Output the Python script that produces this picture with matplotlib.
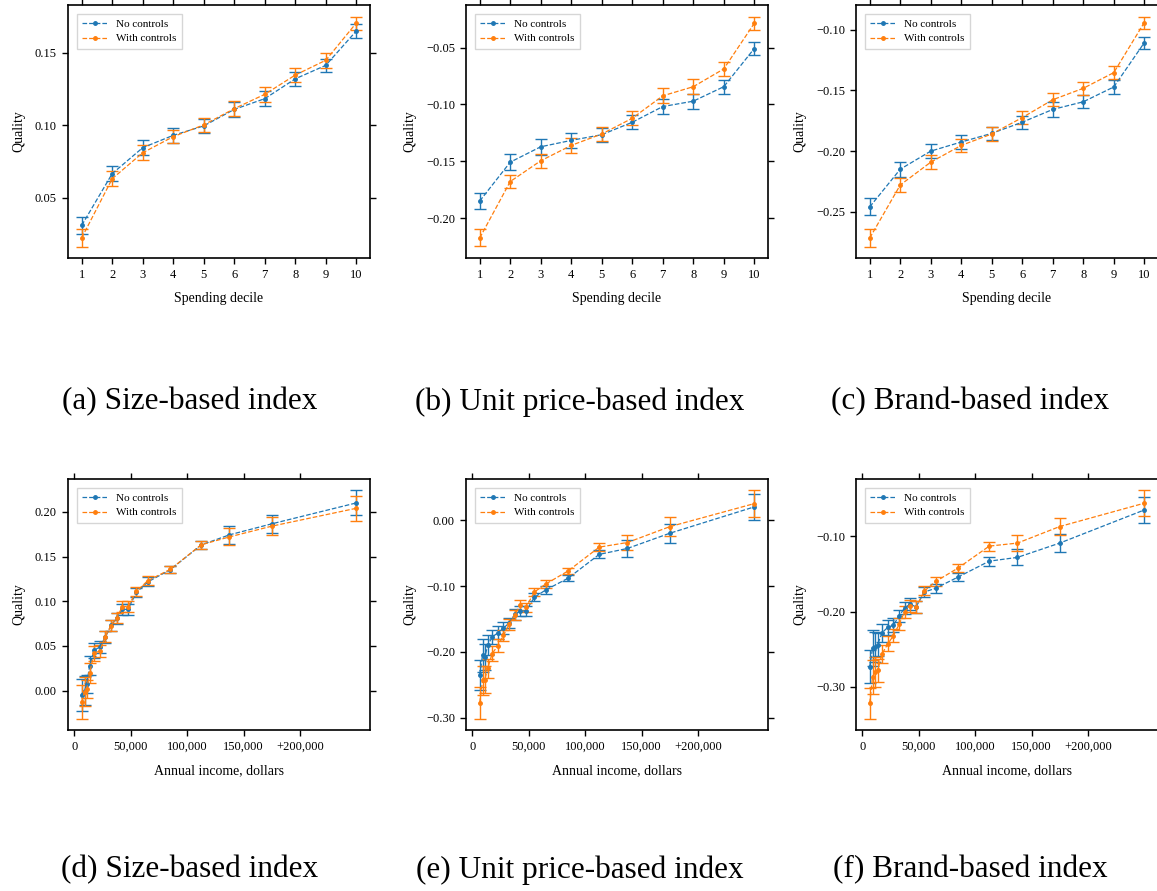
import matplotlib
matplotlib.use("Agg")
import matplotlib.pyplot as plt
from matplotlib.lines import Line2D
from matplotlib.ticker import FuncFormatter

### Data ###

deciles = [1, 2, 3, 4, 5, 6, 7, 8, 9, 10]
income = [6500, 9000, 11000, 13500, 17500, 22500, 27500, 32500, 37500, 42500,
          47500, 55000, 65000, 85000, 112500, 137500, 175000, 250000]

# (a) size-based, by decile
a_no = [0.0309, 0.0666, 0.0845, 0.0930, 0.0995, 0.1109, 0.1183, 0.1320, 0.1413, 0.1650]
a_no_err = [0.006, 0.005, 0.005, 0.005, 0.005, 0.005, 0.005, 0.005, 0.0046, 0.0045]
a_with = [0.0223, 0.0631, 0.0810, 0.0921, 0.1002, 0.1114, 0.1213, 0.1346, 0.1448, 0.1705]
a_with_err = [0.006, 0.005, 0.005, 0.0045, 0.005, 0.005, 0.005, 0.005, 0.005, 0.0045]

# (b) unit price-based, by decile
b_no = [-0.1847, -0.1506, -0.1371, -0.1315, -0.1265, -0.1156, -0.1018, -0.0971, -0.0844, -0.0509]
b_no_err = [0.0074, 0.0068, 0.0068, 0.0065, 0.006, 0.006, 0.0065, 0.0065, 0.006, 0.006]
b_with = [-0.2171, -0.1676, -0.1494, -0.1359, -0.1259, -0.1121, -0.0924, -0.0844, -0.0688, -0.0288]
b_with_err = [0.0075, 0.006, 0.006, 0.0065, 0.0065, 0.006, 0.0065, 0.0065, 0.006, 0.006]

# (c) brand-based, by decile
c_no = [-0.2459, -0.2149, -0.2000, -0.1925, -0.1854, -0.1762, -0.1657, -0.1594, -0.1472, -0.1108]
c_no_err = [0.007, 0.006, 0.006, 0.0055, 0.0055, 0.0055, 0.006, 0.0055, 0.0055, 0.005]
c_with = [-0.2715, -0.2279, -0.2091, -0.1953, -0.1859, -0.1724, -0.1577, -0.1483, -0.1354, -0.0942]
c_with_err = [0.007, 0.006, 0.0055, 0.0055, 0.0055, 0.0055, 0.0055, 0.0055, 0.0055, 0.005]

# (d) size-based, by income
d_no = [-0.0045, 0.0000, 0.0078, 0.0280, 0.0450, 0.0490, 0.0600, 0.0730, 0.0810, 0.0910,
        0.0910, 0.1100, 0.1216, 0.1353, 0.1630, 0.1743, 0.1866, 0.2100]
d_no_err = [0.018, 0.016, 0.010, 0.0105, 0.008, 0.007, 0.0065, 0.006, 0.006, 0.006,
            0.006, 0.005, 0.005, 0.004, 0.0045, 0.0097, 0.0104, 0.014]
d_with = [-0.0126, -0.0010, 0.0022, 0.0197, 0.0416, 0.0446, 0.0606, 0.0729, 0.0814, 0.0940,
          0.0940, 0.1110, 0.1230, 0.1357, 0.1632, 0.1720, 0.1840, 0.2040]
d_with_err = [0.0186, 0.016, 0.010, 0.011, 0.008, 0.007, 0.0065, 0.006, 0.006, 0.006,
              0.006, 0.005, 0.005, 0.004, 0.0045, 0.0095, 0.010, 0.014]

# (e) unit price-based, by income
e_no = [-0.2345, -0.2047, -0.2080, -0.1900, -0.1775, -0.1710, -0.1640, -0.1560, -0.1430, -0.1380,
        -0.1380, -0.1170, -0.1060, -0.0880, -0.0520, -0.0430, -0.0200, 0.0200]
e_no_err = [0.023, 0.025, 0.020, 0.015, 0.011, 0.010, 0.009, 0.008, 0.008, 0.008,
            0.007, 0.006, 0.006, 0.005, 0.006, 0.0126, 0.014, 0.020]
e_with = [-0.2770, -0.2430, -0.2420, -0.2250, -0.2025, -0.1905, -0.1750, -0.1580, -0.1440, -0.1290,
          -0.1320, -0.1090, -0.0970, -0.0770, -0.0410, -0.0340, -0.0100, 0.0250]
e_with_err = [0.024, 0.022, 0.020, 0.015, 0.011, 0.010, 0.009, 0.008, 0.008, 0.008,
              0.007, 0.006, 0.006, 0.005, 0.006, 0.012, 0.014, 0.020]

# (f) brand-based, by income
f_no = [-0.2735, -0.2487, -0.2470, -0.2438, -0.2280, -0.2210, -0.2180, -0.2060, -0.1950, -0.1900,
        -0.1940, -0.1740, -0.1690, -0.1540, -0.1330, -0.1280, -0.1090, -0.0650]
f_no_err = [0.022, 0.024, 0.020, 0.015, 0.012, 0.010, 0.009, 0.008, 0.008, 0.008,
            0.008, 0.006, 0.006, 0.005, 0.006, 0.0105, 0.0115, 0.0177]
f_with = [-0.3217, -0.2870, -0.2800, -0.2780, -0.2560, -0.2430, -0.2320, -0.2170, -0.2000, -0.1920,
          -0.1940, -0.1726, -0.1600, -0.1420, -0.1130, -0.1090, -0.0870, -0.0560]
f_with_err = [0.0205, 0.022, 0.020, 0.015, 0.012, 0.010, 0.009, 0.008, 0.008, 0.008,
              0.008, 0.006, 0.006, 0.005, 0.006, 0.0105, 0.0117, 0.017]

income_ticks = [0, 50000, 100000, 150000, 200000]
income_ticklabels = ["0", "50,000", "100,000", "150,000", "+200,000"]

captions = ["(a) Size-based index", "(b) Unit price-based index", "(c) Brand-based index",
            "(d) Size-based index", "(e) Unit price-based index", "(f) Brand-based index"]

yticks = [[0.05, 0.10, 0.15], [-0.20, -0.15, -0.10, -0.05], [-0.25, -0.20, -0.15, -0.10],
          [0.00, 0.05, 0.10, 0.15, 0.20], [-0.30, -0.20, -0.10, 0.00], [-0.30, -0.20, -0.10]]

panels = [(deciles, a_no, a_no_err, a_with, a_with_err),
          (deciles, b_no, b_no_err, b_with, b_with_err),
          (deciles, c_no, c_no_err, c_with, c_with_err),
          (income, d_no, d_no_err, d_with, d_with_err),
          (income, e_no, e_no_err, e_with, e_with_err),
          (income, f_no, f_no_err, f_with, f_with_err)]

### Style ###
plt.rcParams['font.family'] = ['Liberation Serif', 'DejaVu Serif']
plt.rcParams['axes.linewidth'] = 1.2
plt.rcParams['xtick.direction'] = 'out'
plt.rcParams['ytick.direction'] = 'out'

blue = '#1f77b4'
orange = '#ff7f0e'

W, H = 1157, 891
fig = plt.figure(figsize=(W / 100, H / 100), dpi=100)

lefts = [68, 466, 856]
ax_w = 302
tops = [5, 479]
ax_h = [253, 251]
cap_x = [190, 580, 970]
cap_y = [402, 870]

fmt2 = FuncFormatter(lambda v, p: ("%.2f" % v).replace("-", "\u2212"))

handles = [Line2D([], [], color=blue, ls='--', lw=0.9, marker='.', ms=5),
           Line2D([], [], color=orange, ls='--', lw=0.9, marker='.', ms=5)]

for i, (x, y_no, e_no_, y_w, e_w_) in enumerate(panels):
	row, col = divmod(i, 3)
	l = lefts[col]
	t = tops[row]
	h = ax_h[row]
	ax = fig.add_axes([l / W, 1 - (t + h) / H, ax_w / W, h / H])

	ax.errorbar(x, y_no, yerr=e_no_, fmt='.--', color=blue, lw=0.9, ms=5,
	            elinewidth=1.0, capsize=4, capthick=1.0)
	ax.errorbar(x, y_w, yerr=e_w_, fmt='.--', color=orange, lw=0.9, ms=5,
	            elinewidth=1.0, capsize=4, capthick=1.0)

	if row == 0:
		ax.set_xticks(deciles)
		ax.set_xlabel("Spending decile", fontsize=10, labelpad=8)
	else:
		ax.set_xticks(income_ticks)
		ax.set_xticklabels(income_ticklabels)
		ax.set_xlabel("Annual income, dollars", fontsize=10, labelpad=8)

	ax.set_yticks(yticks[i])
	ax.yaxis.set_major_formatter(fmt2)
	ax.set_ylabel("Quality", fontsize=10, labelpad=7)
	ax.tick_params(axis='both', which='both', labelsize=9, length=4.5, width=1,
	               top=True, right=True, labeltop=False, labelright=False)

	ax.legend(handles, ['No controls', 'With controls'], loc='upper left', fontsize=8,
	          frameon=True, fancybox=False, edgecolor='#cccccc', handlelength=2.2,
	          borderpad=0.5, labelspacing=0.4, borderaxespad=0.8)

	fig.text(cap_x[col] / W, 1 - cap_y[row] / H, captions[i], ha='center', va='center',
	         fontsize=22.5)

fig.savefig("out.png", dpi=100)
